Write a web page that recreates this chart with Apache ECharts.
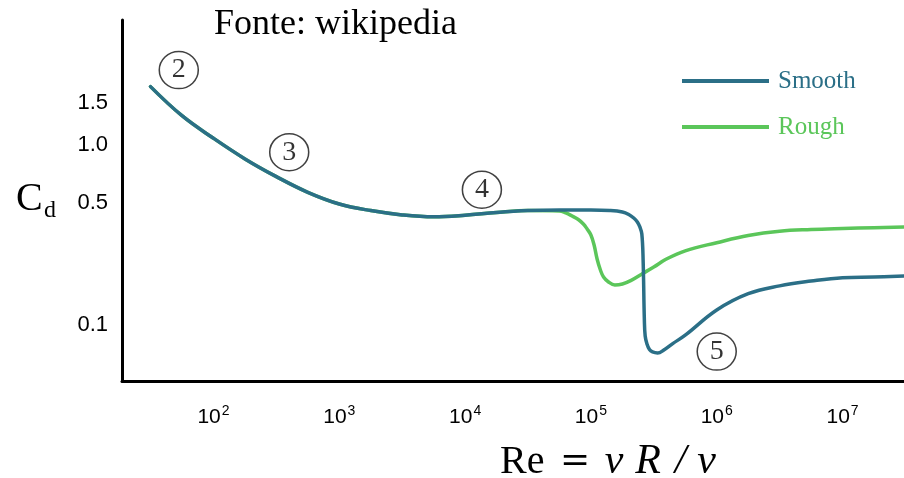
<!DOCTYPE html>
<html>
<head>
<meta charset="utf-8">
<script src="https://cdn.jsdelivr.net/npm/echarts@6/dist/echarts.min.js"></script>
<style>
  html, body { margin: 0; padding: 0; background: #ffffff; }
  #chart { width: 904px; height: 478px; }
</style>
</head>
<body>
<div id="chart"></div>
<script>
// Drag coefficient of a sphere versus Reynolds number (smooth and rough surface)

// Smooth sphere: Reynolds number and drag coefficient
const reSmooth = [31.6, 56.2, 100, 178, 316, 562, 1000, 1780, 3160, 5620, 1e4, 1.78e4, 3.16e4, 5.62e4,
  1e5, 1.41e5, 1.78e5, 2.0e5, 2.19e5, 2.34e5, 2.45e5, 2.54e5, 2.60e5, 2.66e5, 2.70e5, 2.79e5, 2.92e5,
  3.09e5, 3.39e5, 3.80e5, 4.47e5, 5.62e5, 1e6, 1.78e6, 3.16e6, 5.62e6, 1e7, 1.78e7, 3.09e7];
const cdSmooth = [1.827, 1.328, 1.037, 0.827, 0.681, 0.5736, 0.5045, 0.4693, 0.4477, 0.4384, 0.4457, 0.4596, 0.4693, 0.4724,
  0.4724, 0.4698, 0.4622, 0.4496, 0.4327, 0.4141, 0.3921, 0.3631, 0.2730, 0.1414, 0.1187, 0.1087, 0.1023,
  0.0996, 0.0985, 0.1018, 0.1092, 0.1197, 0.1578, 0.1887, 0.2056, 0.2166, 0.2248, 0.2266, 0.2291];

// Rough sphere: follows the smooth curve until an earlier drag crisis
const reRough = [31.6, 56.2, 100, 178, 316, 562, 1000, 1780, 3160, 5620, 1e4, 1.78e4, 3.16e4, 5.62e4,
  6.31e4, 7.08e4, 7.94e4, 8.71e4, 9.33e4, 1e5, 1.06e5, 1.12e5, 1.19e5, 1.26e5, 1.38e5, 1.55e5, 1.78e5,
  2.09e5, 2.51e5, 3.16e5, 3.98e5, 5.62e5, 1e6, 1.78e6, 3.16e6, 5.62e6, 1e7, 1.78e7, 3.09e7];
const cdRough = [1.827, 1.328, 1.037, 0.827, 0.681, 0.5736, 0.5045, 0.4693, 0.4477, 0.4384, 0.4457, 0.4596, 0.4693, 0.4673,
  0.4571, 0.4422, 0.4256, 0.4053, 0.3836, 0.3591, 0.3219, 0.2761, 0.2446, 0.2266, 0.2145, 0.2076, 0.2099,
  0.2183, 0.2331, 0.2528, 0.2758, 0.3020, 0.3301, 0.3572, 0.3744, 0.3815, 0.3857, 0.3890, 0.3921];

// Circled regime markers
const regimeLabels = ['2', '3', '4', '5'];
const regimeRe = [53, 400, 13600, 1.0e6];
const regimeCd = [2.19, 0.89, 0.59, 0.100];

// Axis ticks
const xTickValues = [1e2, 1e3, 1e4, 1e5, 1e6, 1e7];
const xTickExponents = ['2', '3', '4', '5', '6', '7'];
const yTickValues = [1.527, 0.963, 0.510, 0.134];
const yTickLabels = ['1.5', '1.0', '0.5', '0.1'];

const seriesNames = ['Smooth', 'Rough'];
const colorSmooth = '#2b6f87';
const colorRough = '#5bc65a';

const zip = (xs, ys) => xs.map((x, i) => [x, ys[i]]);

const chart = echarts.init(document.getElementById('chart'), null, { renderer: 'canvas' });

chart.setOption({
  backgroundColor: '#ffffff',
  animation: false,
  title: [
    {
      text: 'Fonte: wikipedia',
      left: 214, top: 7, padding: 0,
      textStyle: { fontFamily: 'Liberation Serif', fontSize: 36, fontWeight: 'normal', color: '#000' }
    },
    {
      text: 'C',
      left: 16, top: 179, padding: 0,
      textStyle: { fontFamily: 'Liberation Serif', fontSize: 40, fontWeight: 'normal', color: '#000' }
    },
    {
      text: 'd',
      left: 44, top: 199, padding: 0,
      textStyle: { fontFamily: 'Liberation Serif', fontSize: 24, fontWeight: 'normal', color: '#000' }
    },
    {
      text: '{r|Re}{e|=}{v|v}{R|R}{s|/}{n|ν}',
      left: 500, top: 441, padding: 0,
      textStyle: {
        fontFamily: 'Liberation Serif', fontSize: 40, fontWeight: 'normal', color: '#000',
        rich: {
          r: { fontFamily: 'Liberation Serif', fontSize: 40, width: 50, align: 'left' },
          e: { fontFamily: 'DejaVu Serif', fontSize: 36, width: 50, align: 'center' },
          v: { fontFamily: 'Liberation Serif', fontStyle: 'italic', fontSize: 42, width: 28, align: 'center' },
          R: { fontFamily: 'Liberation Serif', fontStyle: 'italic', fontSize: 42, width: 40, align: 'center' },
          s: { fontFamily: 'Liberation Serif', fontStyle: 'italic', fontSize: 42, width: 25, align: 'center' },
          n: { fontFamily: 'Liberation Serif', fontStyle: 'italic', fontSize: 42, width: 27, align: 'center' }
        }
      }
    }
  ],
  legend: {
    orient: 'vertical',
    left: 677, top: 63,
    itemWidth: 87, itemHeight: 4, itemGap: 20,
    icon: 'rect',
    selectedMode: false,
    data: [
      { name: seriesNames[0], textStyle: { color: colorSmooth } },
      { name: seriesNames[1], textStyle: { color: colorRough } }
    ],
    textStyle: { fontFamily: 'Liberation Serif', fontSize: 25, lineHeight: 26, padding: [0, 0, 0, 4] }
  },
  grid: { left: 122, right: 0, top: 20, bottom: 97 },
  xAxis: {
    type: 'log',
    min: 18.75, max: 3.08e7,
    axisLine: { lineStyle: { color: '#000', width: 3 } },
    axisTick: { show: false },
    splitLine: { show: false },
    axisLabel: {
      customValues: xTickValues,
      margin: 23,
      formatter: (v) => {
        const i = xTickValues.findIndex(t => Math.abs(Math.log10(t) - Math.log10(v)) < 1e-6);
        return '{b|10}{s|' + (i >= 0 ? xTickExponents[i] : '') + '}';
      },
      rich: {
        b: { fontFamily: 'Liberation Sans', fontSize: 21, color: '#000', verticalAlign: 'bottom' },
        s: { fontFamily: 'Liberation Sans', fontSize: 14, color: '#000', padding: [0, 0, 10, 1] }
      }
    }
  },
  yAxis: {
    type: 'log',
    min: 0.07244, max: 3.793,
    axisLine: { lineStyle: { color: '#000', width: 3 } },
    axisTick: { show: false },
    splitLine: { show: false },
    axisLabel: {
      customValues: yTickValues,
      margin: 14,
      fontFamily: 'Liberation Sans', fontSize: 22, color: '#000',
      formatter: (v) => {
        const i = yTickValues.findIndex(t => Math.abs(t - v) < 1e-6);
        return i >= 0 ? yTickLabels[i] : '';
      }
    }
  },
  series: [
    {
      name: seriesNames[1],
      type: 'line',
      data: zip(reRough, cdRough),
      showSymbol: false,
      smooth: 0.4,
      color: colorRough,
      lineStyle: { color: colorRough, width: 3.5, cap: 'round', join: 'round' },
      z: 2
    },
    {
      name: seriesNames[0],
      type: 'line',
      data: zip(reSmooth, cdSmooth),
      showSymbol: false,
      smooth: 0.4,
      color: colorSmooth,
      lineStyle: { color: colorSmooth, width: 3.5, cap: 'round', join: 'round' },
      z: 3
    },
    {
      name: 'regimes',
      type: 'scatter',
      data: regimeRe.map((x, i) => ({ value: [x, regimeCd[i]], name: regimeLabels[i] })),
      symbol: 'circle',
      symbolSize: [39, 37],
      itemStyle: { color: 'rgba(255,255,255,0)', borderColor: '#111', borderWidth: 1.5 },
      label: {
        show: true, position: 'inside',
        formatter: (p) => p.name,
        fontFamily: 'Liberation Serif', fontSize: 28, color: '#000'
      },
      emphasis: { disabled: true },
      silent: true,
      z: 4
    }
  ]
});
</script>
</body>
</html>
